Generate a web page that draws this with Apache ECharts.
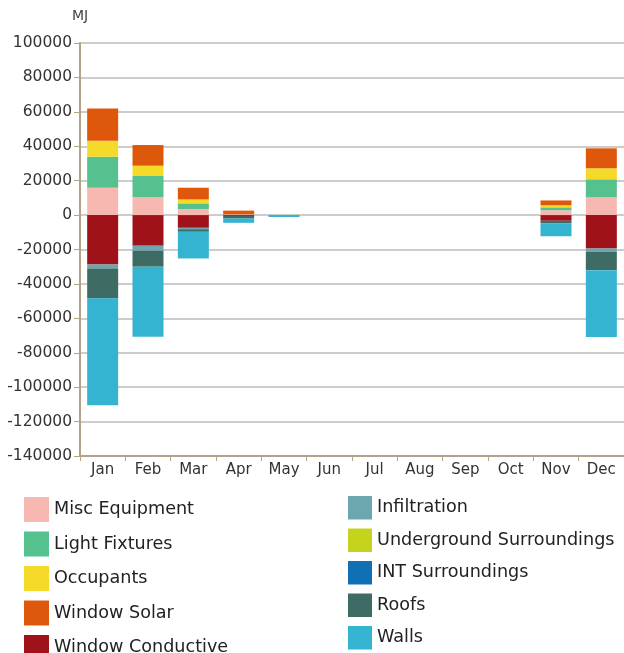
<!DOCTYPE html>
<html>
<head>
<meta charset="utf-8">
<script src="https://cdn.jsdelivr.net/npm/echarts@6/dist/echarts.min.js"></script>
<style>
html,body{margin:0;padding:0;background:#fff;}
#chart{width:624px;height:653px;}
</style>
</head>
<body>
<div id="chart"></div>
<script>
const months = ['Jan','Feb','Mar','Apr','May','Jun','Jul','Aug','Sep','Oct','Nov','Dec'];
const yTicks = { min: -140000, max: 100000, step: 20000 };

const miscEquipment      = [15900, 10300, 3500,  400,    0, 0, 0, 0, 0, 0,  2800, 10300];
const lightFixtures      = [18000, 12400, 3300,    0,    0, 0, 0, 0, 0, 0,  1700, 10500];
const occupants          = [ 9300,  6000, 2300,    0,    0, 0, 0, 0, 0, 0,  1200,  6400];
const windowSolar        = [18800, 12000, 6800, 2200,    0, 0, 0, 0, 0, 0,  2800, 11600];
const windowConductive   = [-28700, -17800, -7400, -500,   0, 0, 0, 0, 0, 0, -3300, -19400];
const infiltration       = [-2300, -2900,  -800,    0,     0, 0, 0, 0, 0, 0,     0,  -1900];
const undergroundSurr    = [0, 0, 0, 0, 0, 0, 0, 0, 0, 0, 0, 0];
const intSurroundings    = [0, 0, 0, 0, 0, 0, 0, 0, 0, 0, 0, 0];
const roofs              = [-17400, -9300, -1500, -1500, -300, 0, 0, 0, 0, 0, -1400, -10700];
const walls              = [-62100, -40700, -15500, -2500, -800, 0, 0, 0, 0, 0, -7600, -38800];

const seriesDefs = [
  ['Misc Equipment', miscEquipment, '#f8b8b2'],
  ['Light Fixtures', lightFixtures, '#55c18e'],
  ['Occupants', occupants, '#f6da2a'],
  ['Window Solar', windowSolar, '#de580c'],
  ['Window Conductive', windowConductive, '#a0121a'],
  ['Infiltration', infiltration, '#6ca6ae'],
  ['Underground Surroundings', undergroundSurr, '#c4d41c'],
  ['INT Surroundings', intSurroundings, '#106fb5'],
  ['Roofs', roofs, '#3e6b63'],
  ['Walls', walls, '#34b4d0']
];

const font = 'DejaVu Sans';
const axisColor = '#b3a288';

const chart = echarts.init(document.getElementById('chart'), null, {renderer: 'canvas'});
const legendText = {fontFamily: font, fontSize: 17.6, color: '#222'};
chart.setOption({
  animation: false,
  backgroundColor: '#fff',
  grid: {left: 80, right: 0, top: 43, bottom: 197, containLabel: false},
  legend: [
    {
      data: seriesDefs.slice(0, 5).map(d => d[0]),
      orient: 'vertical', left: 19, top: 492, height: 200, width: 300,
      itemWidth: 25, itemHeight: 25, itemGap: 9.5,
      icon: 'rect', textStyle: legendText
    },
    {
      data: seriesDefs.slice(5).map(d => d[0]),
      orient: 'vertical', left: 343, top: 491, height: 200, width: 281,
      itemWidth: 24, itemHeight: 23.5, itemGap: 9,
      icon: 'rect', textStyle: legendText
    }
  ],
  xAxis: {
    type: 'category',
    data: months,
    boundaryGap: true,
    axisLine: {onZero: false, lineStyle: {color: axisColor, width: 2}},
    axisTick: {show: true, alignWithLabel: false, length: 5, lineStyle: {color: axisColor}},
    axisLabel: {fontFamily: font, fontSize: 15, color: '#333', margin: 7, interval: 0},
    splitLine: {show: false}
  },
  yAxis: {
    type: 'value',
    min: yTicks.min, max: yTicks.max, interval: yTicks.step,
    name: 'MJ',
    nameLocation: 'end',
    nameGap: 20,
    nameTextStyle: {fontFamily: font, fontSize: 14, color: '#444', align: 'center'},
    axisLine: {show: true, lineStyle: {color: axisColor, width: 2}},
    axisTick: {show: true, length: 6, lineStyle: {color: axisColor}},
    axisLabel: {fontFamily: font, fontSize: 15.5, color: '#333', margin: 8,
      formatter: v => String(v)},
    splitLine: {show: true, lineStyle: {color: '#cccccc', width: 2}}
  },
  series: seriesDefs.map(([name, values, color]) => ({
    name: name,
    type: 'bar',
    stack: 'total',
    data: values,
    barWidth: 31,
    itemStyle: {color: color},
    emphasis: {disabled: true}
  }))
});
</script>
</body>
</html>
